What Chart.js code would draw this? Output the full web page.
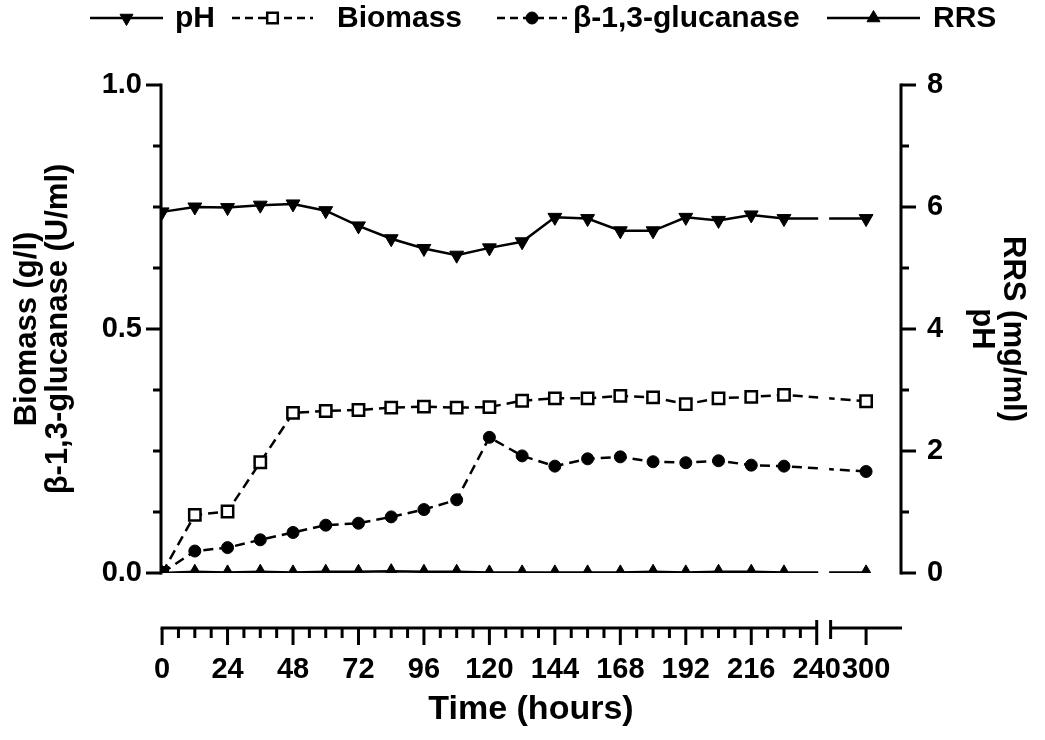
<!DOCTYPE html>
<html>
<head>
<meta charset="utf-8">
<script src="https://cdn.jsdelivr.net/npm/chart.js@4.4.1/dist/chart.umd.min.js"></script>
<style>
html,body{margin:0;padding:0;background:#fff;}
#wrap{width:1045px;height:740px;position:relative;}
canvas{display:block;}
</style>
</head>
<body>
<div id="wrap"><canvas id="c" width="1045" height="740"></canvas></div>
<script>
// ---------------- data ----------------
const hours = [0,12,24,36,48,60,72,84,96,108,120,132,144,156,168,180,192,204,216,228,300];
const phValues = [5.92,6.00,5.99,6.03,6.05,5.94,5.69,5.48,5.32,5.21,5.33,5.43,5.83,5.81,5.61,5.61,5.83,5.78,5.87,5.81,5.81];
const biomassValues = [0,0.119,0.126,0.227,0.328,0.332,0.334,0.339,0.341,0.339,0.340,0.353,0.358,0.358,0.363,0.360,0.346,0.358,0.361,0.365,0.352];
const glucanaseValues = [0,0.045,0.052,0.068,0.083,0.098,0.102,0.115,0.130,0.150,0.278,0.240,0.219,0.234,0.238,0.228,0.226,0.230,0.221,0.219,0.208];
const rrsValues = [0,0.02,0.01,0.02,0.01,0.02,0.02,0.03,0.02,0.02,0.01,0.01,0.01,0.01,0.01,0.02,0.01,0.02,0.02,0.01,0.01];
const xTickHours = [0,24,48,72,96,120,144,168,192,216,240,300];
const leftTicks = [0,0.5,1.0];
const rightTicks = [0,2,4,6,8];
const seriesNames = ['pH','Biomass','\u03B2-1,3-glucanase','RRS'];
const xTitle = 'Time (hours)';
const leftTitle = ['Biomass (g/l)','\u03B2-1,3-glucanase (U/ml)'];
const rightTitle = ['RRS (mg/ml)','pH'];

// ---------------- broken x axis mapping ----------------
const BREAK_AT = 240, SEG2_START = 287, SEG2_POS = 245.1;
function axisPos(h){ return h <= BREAK_AT ? h : SEG2_POS + (h - SEG2_START); }
function hourOf(p){ return p <= BREAK_AT + 0.01 ? Math.round(p) : Math.round(p - SEG2_POS + SEG2_START); }
const pts = vals => hours.map((h,i)=>({x: axisPos(h), y: vals[i]}));

const FONT = "'Liberation Sans', Arial, Helvetica, sans-serif";
const BLACK = '#000';

const datasets = [
  {label: seriesNames[0], yAxisID:'y1', data: pts(phValues), borderColor:BLACK, backgroundColor:BLACK,
   borderWidth:2.5, pointStyle:'triangle', rotation:180, pointRadius:8, pointBorderWidth:1,
   pointBackgroundColor:BLACK, pointBorderColor:BLACK},
  {label: seriesNames[1], yAxisID:'y', data: pts(biomassValues), borderColor:BLACK, borderWidth:2.5,
   borderDash:[10,6], pointStyle:'rect', pointRadius:8, pointBorderWidth:2.5,
   pointBackgroundColor: c => c.dataIndex === 0 ? BLACK : '#fff', pointBorderColor:BLACK},
  {label: seriesNames[2], yAxisID:'y', data: pts(glucanaseValues), borderColor:BLACK, borderWidth:2.5,
   borderDash:[10,6], pointStyle:'circle', pointRadius:6, pointBorderWidth:1,
   pointBackgroundColor:BLACK, pointBorderColor:BLACK},
  {label: seriesNames[3], yAxisID:'y1', data: pts(rrsValues), borderColor:BLACK, borderWidth:2.5,
   pointStyle:'triangle', pointRadius:7.5, pointBorderWidth:1,
   pointBackgroundColor:BLACK, pointBorderColor:BLACK}
];

// ---------------- custom axes & legend ----------------
const legendLayout = [
  {x1:90,  x2:163, text:175, dash:[], style:'triangle', rot:180, r:7.5, fill:true},
  {x1:232, x2:313, text:337, dash:[8,5], style:'rect', rot:0, r:7.5, fill:false},
  {x1:497, x2:567, text:573, dash:[8,5], style:'circle', rot:0, r:6, fill:true},
  {x1:827, x2:920, text:933, dash:[], style:'triangle', rot:0, r:7.5, fill:true}
];
const LEGEND_Y = 18;
const X_AXIS_Y = 628;

const axesPlugin = {
  id:'brokenAxes',
  beforeDatasetsDraw(chart){
    const {ctx, chartArea:a, scales:{x, y, y1}} = chart;
    ctx.save();
    ctx.strokeStyle = BLACK; ctx.lineWidth = 3; ctx.lineCap = 'butt'; ctx.setLineDash([]);
    const seg = (x1,yA,x2,yB)=>{ctx.beginPath();ctx.moveTo(x1,yA);ctx.lineTo(x2,yB);ctx.stroke();};
    // left axis
    const lx = a.left;
    seg(lx, y.getPixelForValue(1)-1.5, lx, y.getPixelForValue(0)+1.5);
    for (let k=0;k<=8;k++){ const py=y.getPixelForValue(k*0.125); seg(lx-(k%4===0?15:8), py, lx, py); }
    // right axis
    const rx = a.right;
    seg(rx, y1.getPixelForValue(8)-1.5, rx, y1.getPixelForValue(0)+1.5);
    for (let k=0;k<=8;k++){ const py=y1.getPixelForValue(k); seg(rx, py, rx+(k%2===0?15:8), py); }
    // bottom broken axis
    const p0 = x.getPixelForValue(0), pB = x.getPixelForValue(BREAK_AT), s2 = x.getPixelForValue(SEG2_POS);
    seg(p0-1.5, X_AXIS_Y, pB, X_AXIS_Y);
    seg(s2, X_AXIS_Y, a.right+1, X_AXIS_Y);
    for (let h=0; h<BREAK_AT; h+=6){ const px=x.getPixelForValue(h); seg(px, X_AXIS_Y, px, X_AXIS_Y+(h%24===0?17:10)); }
    seg(pB, X_AXIS_Y-8, pB, X_AXIS_Y+17);
    seg(s2, X_AXIS_Y-8, s2, X_AXIS_Y+11);
    const p300 = x.getPixelForValue(axisPos(300));
    seg(p300, X_AXIS_Y, p300, X_AXIS_Y+17);
    ctx.restore();
  },
  afterDatasetsDraw(chart){
    const {ctx, chartArea:a, scales:{x}} = chart;
    const gL = x.getPixelForValue(BREAK_AT)+1.5, gR = x.getPixelForValue(SEG2_POS)-1.5;
    ctx.save(); ctx.fillStyle='#fff'; ctx.fillRect(gL, a.top-10, gR-gL, a.bottom-a.top+25); ctx.restore();
  },
  afterDraw(chart){
    const ctx = chart.ctx;
    ctx.save();
    legendLayout.forEach((L,i)=>{
      ctx.strokeStyle=BLACK; ctx.lineWidth=2.5; ctx.setLineDash(L.dash);
      ctx.beginPath(); ctx.moveTo(L.x1, LEGEND_Y); ctx.lineTo(L.x2, LEGEND_Y); ctx.stroke();
      ctx.setLineDash([]);
      ctx.fillStyle = L.fill ? BLACK : '#fff'; ctx.lineWidth = L.fill ? 1 : 2.5;
      Chart.helpers.drawPoint(ctx, {pointStyle:L.style, radius:L.r, rotation:L.rot, borderWidth:ctx.lineWidth}, (L.x1+L.x2)/2, LEGEND_Y);
      ctx.fillStyle=BLACK; ctx.font = "bold 30px " + FONT; ctx.textBaseline='middle'; ctx.textAlign='left';
      ctx.fillText(seriesNames[i], L.text, LEGEND_Y+1);
    });
    ctx.restore();
  }
};

const tickFont = {family:FONT, size:29, weight:'bold'};
const titleFont = {family:FONT, size:31, weight:'bold', lineHeight:1.0};

new Chart(document.getElementById('c'), {
  type:'line',
  data:{datasets},
  options:{
    responsive:false, animation:false, devicePixelRatio:1,
    layout:{padding:{top:85,left:0,right:0,bottom:0}},
    elements:{line:{tension:0}},
    plugins:{legend:{display:false}, tooltip:{enabled:false}},
    scales:{
      x:{type:'linear', min:-0.4, max:270.9,
        grid:{display:false, drawTicks:false}, border:{display:false},
        afterBuildTicks: s => { s.ticks = xTickHours.map(h=>({value:axisPos(h)})); },
        afterFit: s => { s.height = 740-573; },
        ticks:{autoSkip:false, maxRotation:0, minRotation:0, padding:80, color:BLACK, font:tickFont,
          callback: v => String(hourOf(v))},
        title:{display:true, text:xTitle, color:BLACK, font:{family:FONT,size:34,weight:'bold',lineHeight:1.2}, padding:{top:0,bottom:10}}
      },
      y:{type:'linear', position:'left', min:0, max:1,
        grid:{display:false, drawTicks:false}, border:{display:false},
        afterBuildTicks: s => { s.ticks = leftTicks.map(v=>({value:v})); },
        afterFit: s => { s.width = 161; },
        ticks:{padding:19, color:BLACK, font:tickFont, callback: v => Number(v).toFixed(1)},
        title:{display:true, text:leftTitle, color:BLACK, font:titleFont, padding:{top:11.5,bottom:0}}
      },
      y1:{type:'linear', position:'right', min:0, max:8,
        grid:{display:false, drawTicks:false}, border:{display:false},
        afterBuildTicks: s => { s.ticks = rightTicks.map(v=>({value:v})); },
        afterFit: s => { s.width = 1045-901; },
        ticks:{padding:26, color:BLACK, font:tickFont, callback: v => String(v)},
        title:{display:true, text:rightTitle, color:BLACK, font:titleFont, padding:{top:16.5,bottom:0}}
      }
    }
  },
  plugins:[axesPlugin]
});
</script>
</body>
</html>
